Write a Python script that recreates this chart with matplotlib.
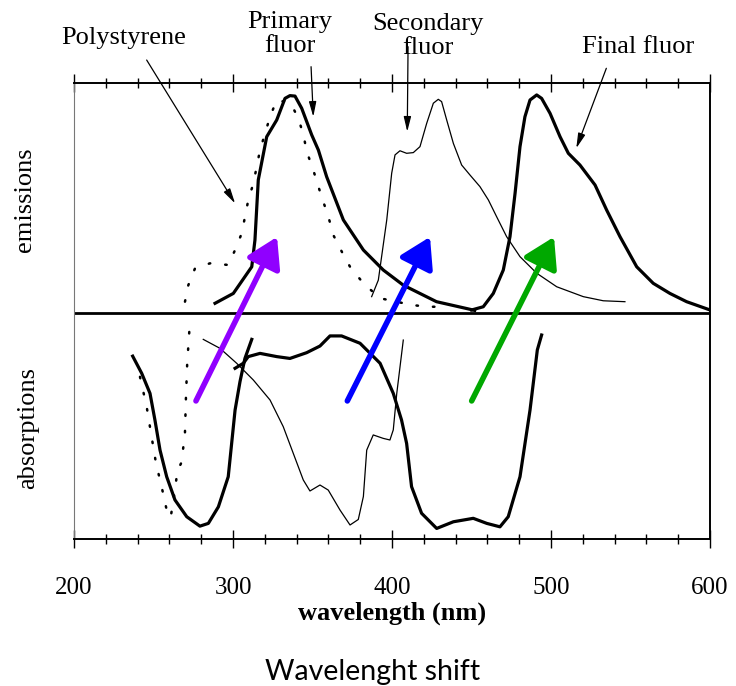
import matplotlib
matplotlib.use("Agg")
import matplotlib.pyplot as plt
from matplotlib.ticker import MultipleLocator

# emission spectra (wavelength nm, relative intensity; 1 = top of panel)
poly_em_x = [269.8, 271.9, 276.1, 285.5, 297.0, 301.3, 305.5, 309.6, 312.8, 317.0, 323.3, 327.5,
             336.3, 341.1, 344.3, 346.4, 350.5, 353.7, 356.8, 360.0, 363.1, 368.4, 373.6, 382.0,
             392.5, 413.0, 423.0, 433.0]
poly_em_y = [0.048, 0.12, 0.193, 0.215, 0.208, 0.273, 0.346, 0.49, 0.563, 0.708, 0.853, 0.926,
             0.912, 0.846, 0.774, 0.701, 0.621, 0.549, 0.483, 0.418, 0.338, 0.266, 0.2, 0.128,
             0.063, 0.033, 0.026, 0.026]

prim_em_x = [288.7, 300.2, 311.8, 313.8, 315.9, 321.2, 327.5, 332.7, 335.8, 339.0, 343.2, 349.5,
             353.7, 358.9, 369.4, 382.0, 394.5, 407.1, 428.0, 449.0, 452.0]
prim_em_y = [0.041, 0.084, 0.20, 0.316, 0.578, 0.766, 0.839, 0.933, 0.945, 0.943, 0.89, 0.774,
             0.708, 0.592, 0.404, 0.273, 0.186, 0.12, 0.048, 0.015, 0.01]

sec_em_x = [387.2, 391.4, 396.7, 399.8, 401.9, 405.0, 409.2, 413.4, 417.6, 421.8, 426.0, 429.1,
            431.2, 434.4, 438.6, 443.8, 449.1, 455.3, 460.6, 465.8, 472.1, 480.5, 491.0, 503.6,
            520.3, 532.9, 546.5]
sec_em_y = [0.07, 0.142, 0.404, 0.607, 0.687, 0.705, 0.694, 0.697, 0.723, 0.824, 0.912, 0.929,
            0.919, 0.839, 0.737, 0.643, 0.599, 0.549, 0.491, 0.418, 0.331, 0.244, 0.172, 0.113,
            0.07, 0.052, 0.048]

fin_em_x = [450.1, 457.4, 463.7, 470.0, 474.2, 477.4, 480.5, 483.6, 486.8, 491.0, 494.1, 499.4,
            505.7, 510.9, 518.2, 527.7, 535.0, 543.4, 553.9, 564.3, 574.8, 585.3, 600.0]
fin_em_y = [0.012, 0.026, 0.084, 0.186, 0.331, 0.52, 0.723, 0.853, 0.926, 0.948, 0.933, 0.868,
            0.766, 0.694, 0.643, 0.556, 0.447, 0.331, 0.2, 0.128, 0.084, 0.048, 0.012]

# absorption spectra (negative = downwards from the middle line)
poly_ab_x = [241.5, 245.7, 248.8, 251.6, 255.1, 258.3, 260.8, 263.5, 265.0, 267.7, 269.8, 270.4,
             271.2, 272.5]
poly_ab_y = [-0.279, -0.409, -0.54, -0.656, -0.757, -0.859, -0.891, -0.772, -0.69, -0.65, -0.52,
             -0.37, -0.22, -0.083]

prim_ab_x = [236.9, 242.6, 247.8, 250.9, 254.1, 258.3, 263.5, 270.9, 279.2, 284.5, 290.8, 297.0,
             301.3, 304.4, 307.5, 311.8]
prim_ab_y = [-0.189, -0.264, -0.351, -0.467, -0.598, -0.714, -0.815, -0.888, -0.929, -0.917,
             -0.845, -0.714, -0.424, -0.30, -0.199, -0.116]

sec_ab_x = [281.3, 291.8, 302.3, 312.8, 323.3, 331.6, 337.9, 344.2, 348.4, 354.7, 359.9, 367.3,
            373.6, 378.8, 382.0, 384.1, 388.2, 394.5, 398.7, 400.8, 403.0, 407.1]
sec_ab_y = [-0.116, -0.155, -0.22, -0.293, -0.38, -0.496, -0.612, -0.728, -0.776, -0.75, -0.772,
            -0.859, -0.924, -0.90, -0.80, -0.598, -0.532, -0.547, -0.554, -0.51, -0.351, -0.119]

fin_ab_x = [301.3, 306.5, 309.6, 317.0, 327.5, 335.8, 346.3, 354.7, 361.0, 368.3, 379.9, 392.5,
            400.8, 406.0, 409.2, 412.3, 418.6, 428.1, 438.6, 451.1, 459.6, 467.9, 473.1, 480.5,
            486.8, 491.4, 494.1]
fin_ab_y = [-0.242, -0.22, -0.191, -0.177, -0.191, -0.199, -0.174, -0.145, -0.101, -0.101,
            -0.133, -0.22, -0.351, -0.467, -0.569, -0.757, -0.873, -0.939, -0.91, -0.895, -0.917,
            -0.932, -0.888, -0.714, -0.424, -0.162, -0.097]

# shift arrows: tail -> head
shift_tail_x = [276.7, 371.9, 450.1]
shift_head_x = [327.7, 423.9, 501.9]
shift_tail_y = -0.384
shift_head_y = 0.33
shift_colors = ["#9000ff", "#0000ff", "#00a800"]

# labels and their pointers
labels = ["Polystyrene", "Primary\nfluor", "Secondary\nfluor", "Final fluor"]
label_x = [231.4, 335.8, 422.6, 554.7]
label_y = [1.196, 1.213, 1.204, 1.157]
ptr_from_x = [245.7, 349.1, 410.1, 534.8]
ptr_from_y = [1.10, 1.071, 1.158, 1.064]
ptr_to_x = [301.3, 350.5, 409.6, 515.9]
ptr_to_y = [0.476, 0.853, 0.788, 0.716]

plt.rcParams["font.family"] = ["Liberation Serif", "DejaVu Serif"]

fig = plt.figure(figsize=(7.36, 6.86), dpi=100)
ax = fig.add_axes([74 / 736, 1 - 539 / 686, 636 / 736, 456 / 686])

thick = 2.3
thin = 0.9
ax.plot(poly_em_x, poly_em_y, color="black", lw=1.8, ls=(0, (0.6, 6)), dash_capstyle="round")
ax.plot(prim_em_x, prim_em_y, color="black", lw=thick)
ax.plot(sec_em_x, sec_em_y, color="black", lw=thin)
ax.plot(fin_em_x, fin_em_y, color="black", lw=thick)
ax.plot(poly_ab_x, poly_ab_y, color="black", lw=1.8, ls=(0, (0.6, 6)), dash_capstyle="round")
ax.plot(prim_ab_x, prim_ab_y, color="black", lw=thick)
ax.plot(sec_ab_x, sec_ab_y, color="black", lw=thin)
ax.plot(fin_ab_x, fin_ab_y, color="black", lw=thick)
ax.axhline(0, color="black", lw=2.0)

for tx, hx, c in zip(shift_tail_x, shift_head_x, shift_colors):
    ax.annotate("", xy=(hx, shift_head_y), xytext=(tx, shift_tail_y),
                arrowprops=dict(arrowstyle="-|>,head_length=0.9,head_width=0.55",
                                mutation_scale=20, color=c, lw=4, shrinkA=0, shrinkB=0,
                                capstyle="round"))

for t, lx, ly, fx, fy, px, py in zip(labels, label_x, label_y, ptr_from_x, ptr_from_y, ptr_to_x, ptr_to_y):
    ax.text(lx, ly, t, ha="center", va="center", fontsize=19, linespacing=1.15, clip_on=False)
    ax.annotate("", xy=(px, py), xytext=(fx, fy), annotation_clip=False,
                arrowprops=dict(arrowstyle="-|>,head_length=0.9,head_width=0.22",
                                color="black", lw=0.9, shrinkA=0, shrinkB=0))

ax.set_xlim(200, 600)
ax.set_ylim(-0.985, 1.0)
ax.set_yticks([])
ax.xaxis.set_major_locator(MultipleLocator(100))
ax.xaxis.set_minor_locator(MultipleLocator(20))
ax.tick_params(axis="x", which="major", direction="inout", length=13, width=1.0,
               top=True, labelsize=18, pad=21)
ax.tick_params(axis="x", which="minor", direction="inout", length=7, width=1.0, top=True)
for s in ["top", "bottom", "right"]:
    ax.spines[s].set_linewidth(1.4)
ax.spines["left"].set_linewidth(0.8)
ax.spines["left"].set_color("#777777")

ax.set_xlabel("wavelength (nm)", fontsize=19, fontweight="bold", labelpad=2)
fig.text(25 / 736, 1 - 200 / 686, "emissions", rotation=90, ha="center", va="center", fontsize=19)
fig.text(28 / 736, 1 - 428 / 686, "absorptions", rotation=90, ha="center", va="center", fontsize=19)
fig.text(373 / 736, 1 - 672 / 686, "Wavelenght shift", ha="center", va="center",
         fontsize=20.5, family=["Lato", "DejaVu Sans"])

fig.savefig("out.png", dpi=100)
